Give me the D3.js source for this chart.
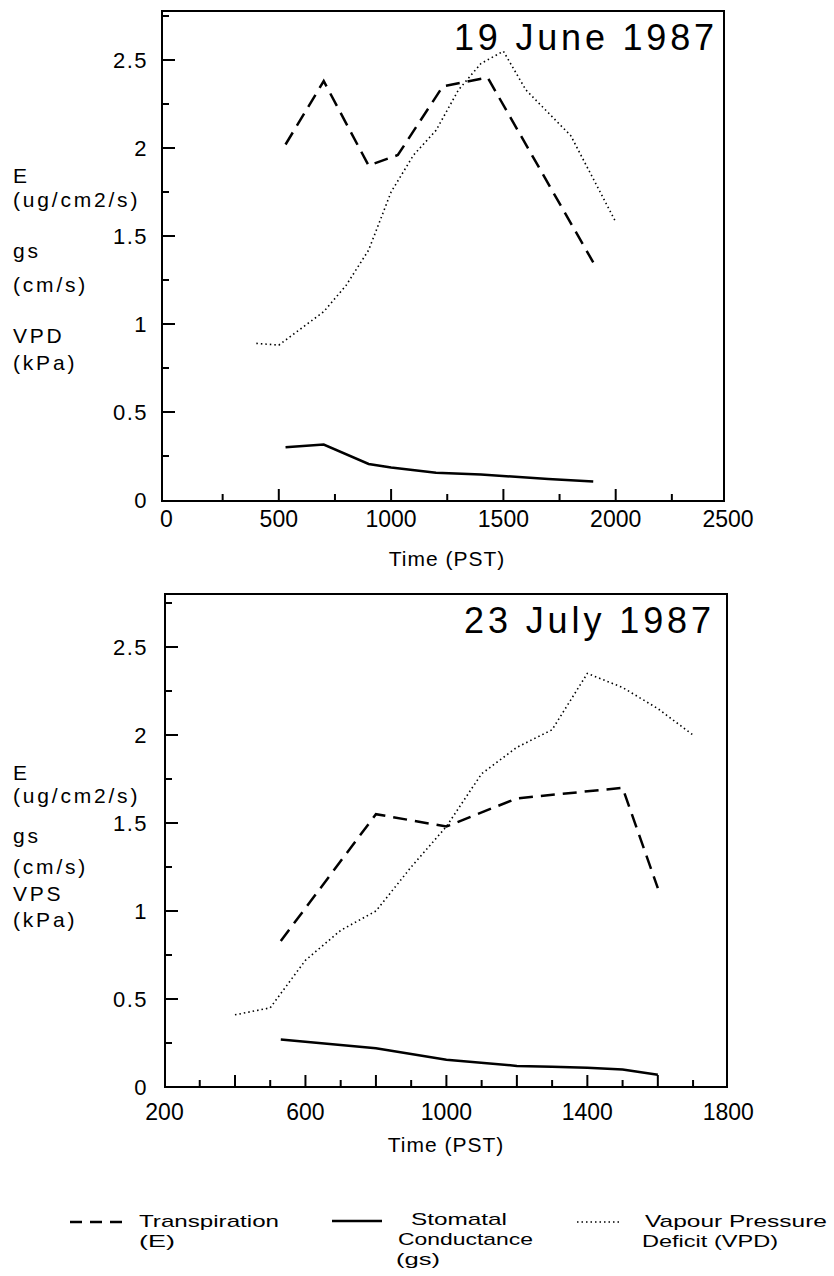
<!DOCTYPE html>
<html>
<head>
<meta charset="utf-8">
<script src="https://d3js.org/d3.v7.min.js"></script>
<style>
    body { margin: 0; background: #fff; }
    svg { display: block; font-family: "Liberation Sans", "DejaVu Sans", sans-serif; }
    .frame { fill: none; stroke: #000; stroke-width: 2; }
    .tick { stroke: #000; stroke-width: 2; }
    .transp { fill: none; stroke: #000; stroke-width: 2.5; stroke-dasharray: 14,8; }
    .cond { fill: none; stroke: #000; stroke-width: 2.5; }
    .vpd { fill: none; stroke: #000; stroke-width: 1.6; stroke-dasharray: 1.5,3; }
</style>
</head>
<body>
<div id="chart"></div>
<script>
// 19 June 1987
var juneTimeE = [530, 700, 900, 1030, 1230, 1430, 1900];
var juneE = [2.02, 2.38, 1.90, 1.96, 2.35, 2.40, 1.35];
var juneTimeGs = [530, 700, 900, 1000, 1200, 1400, 1700, 1900];
var juneGs = [0.30, 0.315, 0.205, 0.185, 0.155, 0.145, 0.12, 0.105];
var juneTimeVpd = [400, 500, 700, 800, 900, 1000, 1100, 1200, 1300, 1400, 1500, 1600, 1700, 1800, 2000];
var juneVpd = [0.89, 0.88, 1.07, 1.22, 1.42, 1.75, 1.96, 2.10, 2.33, 2.48, 2.55, 2.33, 2.20, 2.07, 1.58];

// 23 July 1987
var julyTimeE = [530, 800, 1000, 1200, 1500, 1600];
var julyE = [0.83, 1.55, 1.48, 1.64, 1.70, 1.13];
var julyTimeGs = [530, 800, 1000, 1200, 1300, 1400, 1500, 1600];
var julyGs = [0.27, 0.22, 0.155, 0.12, 0.115, 0.11, 0.10, 0.07];
var julyTimeVpd = [400, 500, 600, 700, 800, 900, 1000, 1100, 1200, 1300, 1400, 1500, 1600, 1700];
var julyVpd = [0.41, 0.45, 0.72, 0.89, 1.00, 1.25, 1.48, 1.78, 1.93, 2.03, 2.35, 2.27, 2.15, 2.00];

// tick labels and texts
var yTickLabels = [0, 0.5, 1, 1.5, 2, 2.5];
var juneXTickLabels = [0, 500, 1000, 1500, 2000, 2500];
var julyXTickLabels = [200, 600, 1000, 1400, 1800];
var juneYTitle = ["E", "(ug/cm2/s)", "gs", "(cm/s)", "VPD", "(kPa)"];
var julyYTitle = ["E", "(ug/cm2/s)", "gs", "(cm/s)", "VPS", "(kPa)"];
var legendNames = [["Transpiration", "(E)"], ["Stomatal", "Conductance", "(gs)"], ["Vapour Pressure", "Deficit (VPD)"]];

var svg = d3.select("#chart")
    .append("svg")
    .attr("width", 834)
    .attr("height", 1276);

function drawPanel(p) {
    var x = d3.scaleLinear().domain(p.xDomain).range(p.xRange);
    var y = d3.scaleLinear().domain([0, 2.5]).range(p.yRange);
    var g = svg.append("g");

    // frame round the plot
    g.append("rect")
        .attr("class", "frame")
        .attr("x", p.frame[0])
        .attr("y", p.frame[1])
        .attr("width", p.frame[2] - p.frame[0])
        .attr("height", p.frame[3] - p.frame[1]);

    // x ticks point inwards, major ones longer
    var xTicks = d3.range(p.xDomain[0] + p.minor, p.xDomain[1], p.minor);
    g.selectAll(".xtick").data(xTicks).enter().append("line")
        .attr("class", "tick")
        .attr("x1", function(d) { return x(d); })
        .attr("x2", function(d) { return x(d); })
        .attr("y1", p.frame[3])
        .attr("y2", function(d) {
            return p.frame[3] - (Math.abs(d % p.major) < 1e-6 ? 12 : 7);
        });

    // y ticks every 0.25, long at every 0.5
    var yTicks = d3.range(1, 12).map(function(i) { return i * 0.25; });
    g.selectAll(".ytick").data(yTicks).enter().append("line")
        .attr("class", "tick")
        .attr("y1", function(d) { return y(d); })
        .attr("y2", function(d) { return y(d); })
        .attr("x1", p.frame[0])
        .attr("x2", function(d) {
            return p.frame[0] + (Math.abs(d % 0.5) < 1e-6 ? 13 : 7);
        });

    g.selectAll(".xlab").data(p.xLabels).enter().append("text")
        .attr("x", function(d) { return x(d); })
        .attr("y", p.xLabelY)
        .attr("text-anchor", "middle")
        .style("font-size", "23px")
        .text(function(d) { return d; });

    g.selectAll(".ylab").data(yTickLabels).enter().append("text")
        .attr("x", 148)
        .attr("y", function(d) { return y(d) + 8; })
        .attr("text-anchor", "end")
        .style("font-size", "22px")
        .style("letter-spacing", "1.5px")
        .text(function(d) { return d; });

    // title in the top right corner
    g.append("text")
        .attr("x", p.title[1])
        .attr("y", p.title[2])
        .attr("textLength", p.title[3])
        .attr("lengthAdjust", "spacing")
        .style("font-size", "36px")
        .text(p.title[0]);

    g.append("text")
        .attr("x", p.timeLabel[0])
        .attr("y", p.timeLabel[1])
        .attr("text-anchor", "middle")
        .style("font-size", "21px")
        .style("letter-spacing", "1px")
        .text("Time (PST)");

    g.selectAll(".ytitle").data(p.yTitle).enter().append("text")
        .attr("x", 13)
        .attr("y", function(d, i) { return p.yTitleY[i]; })
        .style("font-size", "21px")
        .style("letter-spacing", "2.8px")
        .text(function(d) { return d; });

    var line = d3.line()
        .x(function(d) { return x(d[0]); })
        .y(function(d) { return y(d[1]); });

    g.append("path").attr("class", "vpd").attr("d", line(d3.zip(p.vpd[0], p.vpd[1])));
    g.append("path").attr("class", "transp").attr("d", line(d3.zip(p.e[0], p.e[1])));
    g.append("path").attr("class", "cond").attr("d", line(d3.zip(p.gs[0], p.gs[1])));
}

drawPanel({
    xDomain: [0, 2500], xRange: [166.5, 728], yRange: [500, 60],
    frame: [162, 11, 724, 501], major: 500, minor: 250,
    xLabels: juneXTickLabels, xLabelY: 527,
    title: ["19 June 1987", 454, 50, 260],
    timeLabel: [447, 566],
    yTitle: juneYTitle, yTitleY: [183, 207, 258, 292, 343, 370],
    e: [juneTimeE, juneE], gs: [juneTimeGs, juneGs], vpd: [juneTimeVpd, juneVpd]
});

drawPanel({
    xDomain: [200, 1800], xRange: [164.5, 728.3], yRange: [1087, 647],
    frame: [165, 594, 727, 1087], major: 200, minor: 100,
    xLabels: julyXTickLabels, xLabelY: 1120,
    title: ["23 July 1987", 464, 633, 247],
    timeLabel: [446, 1152],
    yTitle: julyYTitle, yTitleY: [780, 803, 843, 874, 901, 927],
    e: [julyTimeE, julyE], gs: [julyTimeGs, julyGs], vpd: [julyTimeVpd, julyVpd]
});

// legend at the bottom
var legend = svg.append("g");
var legendStyle = ["transp", "cond", "vpd"];
var legendLine = [[70, 122, 1222], [332, 382, 1221], [577, 622, 1222]];
var legendText = [
    [[139, 1227, 140], [139, 1247, 36]],
    [[411, 1225, 96], [398, 1245, 135], [396, 1265, 44]],
    [[645, 1227, 182], [642, 1247, 136]]
];

legendStyle.forEach(function(cls, i) {
    legend.append("line")
        .attr("class", cls)
        .attr("x1", legendLine[i][0])
        .attr("x2", legendLine[i][1])
        .attr("y1", legendLine[i][2])
        .attr("y2", legendLine[i][2])
        .style("stroke-dasharray", cls === "transp" ? "12,8" : null);
    legendNames[i].forEach(function(t, j) {
        legend.append("text")
            .attr("x", legendText[i][j][0])
            .attr("y", legendText[i][j][1])
            .attr("textLength", legendText[i][j][2])
            .attr("lengthAdjust", "spacingAndGlyphs")
            .style("font-size", "17px")
            .text(t);
    });
});
</script>
</body>
</html>
